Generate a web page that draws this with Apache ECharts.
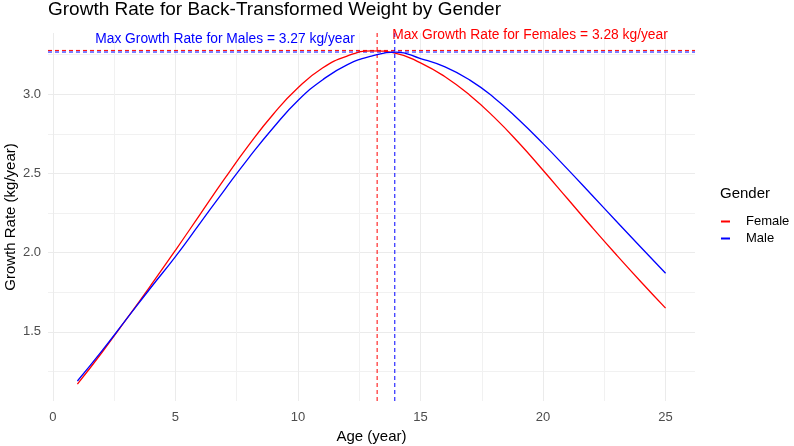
<!DOCTYPE html>
<html>
<head>
<meta charset="utf-8">
<script src="https://cdn.jsdelivr.net/npm/echarts@6/dist/echarts.min.js"></script>
<style>
html, body { margin: 0; padding: 0; background: #ffffff; }
#main { width: 794px; height: 446px; }
</style>
</head>
<body>
<div id="main"></div>
<script>
// data
var ages = [1, 2, 3, 4, 5, 6, 7, 8, 9, 10, 11, 12, 13, 14, 15, 16, 17, 18, 19, 20, 21, 22, 23, 24, 25];
var female = [1.17, 1.37, 1.58, 1.795, 2.015, 2.24, 2.465, 2.68, 2.875, 3.04, 3.165, 3.24, 3.273, 3.258, 3.198,
              3.11, 2.995, 2.855, 2.695, 2.52, 2.34, 2.16, 1.985, 1.815, 1.65];
var male = [1.19, 1.38, 1.58, 1.78, 1.975, 2.185, 2.395, 2.60, 2.79, 2.96, 3.09, 3.185, 3.24, 3.265, 3.225,
            3.172, 3.09, 2.978, 2.84, 2.688, 2.527, 2.362, 2.197, 2.033, 1.87];
var femalePeak = [13.23, 3.276];
var malePeak = [13.95, 3.266];
var xTicks = [0, 25, 5];      // min, max, step
var yTicks = [1.0, 3.5, 0.5]; // min, max, step (outer ones hidden)

// panel (ggplot keeps a 5% margin around the data)
var xRange = [-0.2, 26.2];
var yRange = [1.064, 3.386];
var panel = { left: 48, right: 695, top: 33, bottom: 401 };
var W = 794, H = 446;

function px(x) {
    return panel.left + (x - xRange[0]) / (xRange[1] - xRange[0]) * (panel.right - panel.left);
}
function py(v) {
    return panel.bottom - (v - yRange[0]) / (yRange[1] - yRange[0]) * (panel.bottom - panel.top);
}

var font = 'Liberation Sans, Arial, sans-serif';
var gridCol = '#ebebeb', minorCol = '#f1f1f1';

// dashed reference lines through the peak (vline + hline across the whole panel)
function peakLine(name, col, pts) {
    return {
        name: name,
        type: 'line',
        xAxisIndex: 0, yAxisIndex: 0,
        showSymbol: false,
        silent: true,
        z: 1,
        color: col,
        lineStyle: { color: col, width: 1, type: [4, 3] },
        data: pts
    };
}

var myChart = echarts.init(document.getElementById('main'));

option = {
    backgroundColor: '#ffffff',
    animation: false,
    title: [
        {
            text: 'Growth Rate for Back-Transformed Weight by Gender',
            left: 48, top: 0, padding: 0,
            textStyle: { fontFamily: font, fontSize: 19, fontWeight: 'normal', color: '#000000' }
        },
        {
            text: 'Gender',
            left: 720, top: 186, padding: 0,
            textStyle: { fontFamily: font, fontSize: 15, fontWeight: 'normal', color: '#000000' }
        }
    ],
    legend: {
        orient: 'vertical',
        left: 721, top: 215,
        padding: 0,
        icon: 'rect',
        itemWidth: 9, itemHeight: 2,
        itemGap: 4,
        textStyle: { fontFamily: font, fontSize: 13, color: '#000000', padding: [0, 0, 0, 11] },
        data: ['Female', 'Male']
    },
    grid: [
        // data panel
        { left: panel.left, right: W - panel.right, top: panel.top, bottom: H - panel.bottom, outerBoundsMode: 'none' },
        // x grid lines and labels
        { left: px(xTicks[0]), right: W - px(xTicks[1]), top: panel.top, bottom: H - panel.bottom, outerBoundsMode: 'none' },
        // y grid lines and labels
        { left: panel.left, right: W - panel.right, top: py(yTicks[1]), bottom: H - py(yTicks[0]), outerBoundsMode: 'none' }
    ],
    xAxis: [
        {
            gridIndex: 0, type: 'value', min: xRange[0], max: xRange[1],
            axisLine: { show: false }, axisTick: { show: false },
            axisLabel: { show: false }, splitLine: { show: false },
            name: 'Age (year)', nameLocation: 'middle', nameGap: 28,
            nameTextStyle: { fontFamily: font, fontSize: 15, color: '#000000' }
        },
        {
            gridIndex: 1, type: 'value', min: xTicks[0], max: xTicks[1], interval: xTicks[2],
            axisLine: { show: false }, axisTick: { show: false },
            axisLabel: { fontFamily: font, fontSize: 13, color: '#4d4d4d', margin: 10 },
            splitLine: { show: true, lineStyle: { color: gridCol, width: 1 } },
            minorTick: { show: false, splitNumber: 2 },
            minorSplitLine: { show: true, lineStyle: { color: minorCol, width: 1 } }
        },
        { gridIndex: 2, type: 'value', min: 0, max: 1, show: false }
    ],
    yAxis: [
        {
            gridIndex: 0, type: 'value', min: yRange[0], max: yRange[1],
            axisLine: { show: false }, axisTick: { show: false },
            axisLabel: { show: false }, splitLine: { show: false },
            name: 'Growth Rate (kg/year)', nameLocation: 'middle', nameGap: 30,
            nameTextStyle: { fontFamily: font, fontSize: 15, color: '#000000' }
        },
        { gridIndex: 1, type: 'value', min: 0, max: 1, show: false },
        {
            gridIndex: 2, type: 'value', min: yTicks[0], max: yTicks[1], interval: yTicks[2],
            axisLine: { show: false }, axisTick: { show: false },
            axisLabel: {
                fontFamily: font, fontSize: 13, color: '#4d4d4d', margin: 7,
                showMinLabel: false, showMaxLabel: false,
                formatter: function (v) { return v.toFixed(1); }
            },
            splitLine: { show: true, showMinLine: false, showMaxLine: false, lineStyle: { color: gridCol, width: 1 } },
            minorTick: { show: false, splitNumber: 2 },
            minorSplitLine: { show: true, lineStyle: { color: minorCol, width: 1 } }
        }
    ],
    series: [
        peakLine('femaleV', '#ff0000', [[femalePeak[0], yRange[0]], [femalePeak[0], yRange[1]]]),
        peakLine('femaleH', '#ff0000', [[xRange[0], femalePeak[1]], [xRange[1], femalePeak[1]]]),
        peakLine('maleV', '#0000ff', [[malePeak[0], yRange[0]], [malePeak[0], yRange[1]]]),
        peakLine('maleH', '#0000ff', [[xRange[0], malePeak[1]], [xRange[1], malePeak[1]]]),
        {
            name: 'Female',
            type: 'line',
            xAxisIndex: 0, yAxisIndex: 0,
            smooth: true,
            showSymbol: false,
            color: '#ff0000',
            lineStyle: { width: 1.3, color: '#ff0000' },
            data: ages.map(function (a, i) { return [a, female[i]]; }),
            markPoint: {
                silent: true, symbol: 'circle', symbolSize: 1,
                itemStyle: { color: 'rgba(0,0,0,0)' },
                label: {
                    show: true, position: 'inside', align: 'left', verticalAlign: 'middle',
                    offset: [15, -15],
                    fontFamily: font, fontSize: 13.8, color: '#ff0000',
                    formatter: 'Max Growth Rate for Females = ' + femalePeak[1].toFixed(2) + ' kg/year'
                },
                data: [{ coord: femalePeak }]
            }
        },
        {
            name: 'Male',
            type: 'line',
            xAxisIndex: 0, yAxisIndex: 0,
            smooth: true,
            showSymbol: false,
            color: '#0000ff',
            lineStyle: { width: 1.3, color: '#0000ff' },
            data: ages.map(function (a, i) { return [a, male[i]]; }),
            markPoint: {
                silent: true, symbol: 'circle', symbolSize: 1,
                itemStyle: { color: 'rgba(0,0,0,0)' },
                label: {
                    show: true, position: 'inside', align: 'right', verticalAlign: 'middle',
                    offset: [-40, -13],
                    fontFamily: font, fontSize: 13.8, color: '#0000ff',
                    formatter: 'Max Growth Rate for Males = ' + malePeak[1].toFixed(2) + ' kg/year'
                },
                data: [{ coord: malePeak }]
            }
        }
    ]
};

myChart.setOption(option);
</script>
</body>
</html>
